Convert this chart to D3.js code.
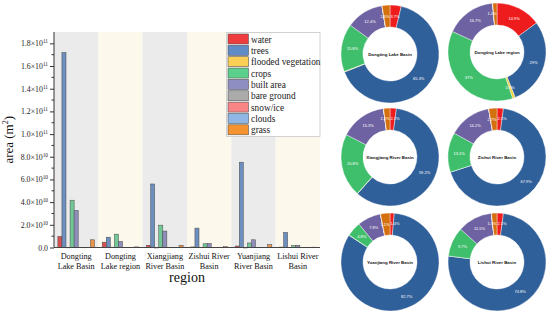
<!DOCTYPE html>
<html><head><meta charset="utf-8">
<script src="https://cdn.jsdelivr.net/npm/d3@7"></script>
<style>body{margin:0;background:#fff}svg{display:block}</style>
</head><body><svg id="c" width="550" height="321"></svg>
<script>
const categories = ["water","trees","flooded vegetation","crops","built area","bare ground","snow/ice","clouds","grass"];
const regions = ["Dongting Lake Basin","Dongting Lake region","Xiangjiang River Basin","Zishui River Basin","Yuanjiang River Basin","Lishui River Basin"];
const regionLabels = [["Dongting","Lake Basin"],["Dongting","Lake region"],["Xiangjiang","River Basin"],["Zishui River","Basin"],["Yuanjiang","River Basin"],["Lishui River","Basin"]];
// bar values, m^2
const areaDLB = [0.97e10,17.2e10,0.02e10,4.17e10,3.27e10,0,0,0,0.68e10];
const areaDLR = [0.47e10,0.91e10,0.03e10,1.18e10,0.53e10,0,0,0,0.05e10];
const areaXRB = [0.20e10,5.6e10,0.01e10,1.97e10,1.45e10,0,0,0,0.20e10];
const areaZRB = [0.05e10,1.71e10,0,0.33e10,0.36e10,0,0,0,0.07e10];
const areaYRB = [0.13e10,7.52e10,0.01e10,0.40e10,0.68e10,0,0,0,0.25e10];
const areaLRB = [0.04e10,1.33e10,0,0.17e10,0.20e10,0,0,0,0.03e10];
const areas = [areaDLB,areaDLR,areaXRB,areaZRB,areaYRB,areaLRB];
// donut shares, %
const pctDLB = [3.7,65.3,0.2,15.8,12.4,0,0,0,2.6];
const pctDLR = [14.9,29,0.9,37,16.7,0,0,0,1.4];
const pctXRB = [2.1,59.2,0.1,20.8,15.3,0,0,0,2.1];
const pctZRB = [2.1,67.9,0,13.1,14.2,0,0,0,2.7];
const pctYRB = [1.4,82.7,0.1,4.8,7.8,0,0,0,3.1];
const pctLRB = [2.1,74.8,0,9.7,11.5,0,0,0,1.8];
const pcts = [pctDLB,pctDLR,pctXRB,pctZRB,pctYRB,pctLRB];
const yTicks = [0,2e10,4e10,6e10,8e10,1e11,1.2e11,1.4e11,1.6e11,1.8e11];

const barColors = ["#d85050","#6d8fbf","#f2cc5e","#72c796","#8f8eba","#a8a8a8","#f08c8c","#94b5dd","#e9934a"];
const legendColors = ["#ee3b3b","#5f8cc6","#fbcf55","#5ccf8c","#8f8ec2","#ababab","#f78585","#8fb6e5","#f59330"];
const pieColors = ["#ee1c1c","#30609a","#f0d040","#3fbf6c","#6f62a2","#a0a0a0","#f08080","#8fb0dd","#d5700f"];

const svg = d3.select("#c");
const serif = "'Liberation Serif','Times New Roman',serif";
const L=54, R=320, T=32, B=247.5;

const x0 = d3.scaleBand().domain(regions).range([L,R]);
const x1 = d3.scaleBand().domain(categories).range([0,x0.bandwidth()]).paddingOuter(0.95);
const y = d3.scaleLinear().domain([0,1.9e11]).range([B,T]);

// background bands
svg.append("g").selectAll("rect").data(regions).join("rect")
  .attr("x",d=>x0(d)).attr("y",T).attr("width",x0.bandwidth()).attr("height",B-T)
  .attr("fill",(d,i)=>i%2===0?"#ebebeb":"#fcf8eb");

// bars
regions.forEach((r,ri)=>{
  svg.append("g").attr("transform",`translate(${x0(r)},0)`)
    .selectAll("rect").data(areas[ri].map((v,i)=>({c:categories[i],v,i}))).join("rect")
    .filter(d=>d.v>0)
    .attr("x",d=>x1(d.c)).attr("width",x1.bandwidth())
    .attr("y",d=>y(d.v)).attr("height",d=>Math.max(0.6,B-y(d.v)))
    .attr("fill",d=>barColors[d.i])
    .attr("stroke","#4a4a4a").attr("stroke-width",0.5);
});

// y axis
const yAxis = d3.axisLeft(y).tickValues(yTicks).tickSize(4).tickFormat("");
const gy = svg.append("g").attr("transform",`translate(${L},0)`).call(yAxis);
gy.select(".domain").attr("d",`M-0,${T}V${B}`).attr("stroke","#333");
gy.selectAll(".tick line").attr("stroke","#333");
const minor = d3.range(1e10,1.9e11,2e10);
gy.selectAll(".minor").data(minor).join("line").attr("class","minor")
  .attr("x1",-2.5).attr("x2",0).attr("y1",d=>y(d)).attr("y2",d=>y(d)).attr("stroke","#333");
yTicks.forEach(v=>{
  const t = svg.append("text").attr("x",L-6).attr("y",y(v)+3).attr("text-anchor","end")
    .attr("font-family",serif).attr("font-size",7.8).attr("fill","#222");
  if(v===0){t.text("0.0");return;}
  const e = Math.floor(Math.log10(v)); const m = (v/Math.pow(10,e)).toFixed(1);
  t.append("tspan").text(m+"×10");
  t.append("tspan").attr("dy",-3).attr("font-size",5.3).text(e);
});
svg.append("text").attr("transform",`translate(13,${(T+B)/2}) rotate(-90)`).attr("text-anchor","middle")
  .attr("font-family",serif).attr("font-size",13).attr("fill","#111")
  .call(t=>{t.append("tspan").text("area (m");t.append("tspan").attr("dy",-5).attr("font-size",8).text("2");t.append("tspan").attr("dy",5).text(")");});

// x axis
svg.append("line").attr("x1",L).attr("x2",R).attr("y1",B).attr("y2",B).attr("stroke","#444").attr("stroke-width",1);
regions.forEach((r,i)=>{
  const cx = x0(r)+x0.bandwidth()/2;
  const t = svg.append("text").attr("x",cx).attr("y",259).attr("text-anchor","middle")
    .attr("font-family",serif).attr("font-size",8.2).attr("fill","#111");
  regionLabels[i].forEach((s,k)=>t.append("tspan").attr("x",cx).attr("dy",k?9.8:0).text(s));
});
svg.append("text").attr("x",187).attr("y",282).attr("text-anchor","middle")
  .attr("font-family",serif).attr("font-size",14).attr("fill","#111").text("region");

// legend
const lg = svg.append("g").attr("transform","translate(226.5,32.5)");
lg.append("rect").attr("width",93.5).attr("height",104).attr("fill","#fff").attr("stroke","#c8c8c8").attr("stroke-width",0.8);
categories.forEach((c,i)=>{
  lg.append("rect").attr("x",1.5).attr("y",1.5+i*11.35).attr("width",20.5).attr("height",10)
    .attr("fill",legendColors[i]).attr("stroke","#555").attr("stroke-width",0.6);
  lg.append("text").attr("x",24.5).attr("y",10+i*11.35).attr("font-family",serif).attr("font-size",9.3).attr("fill","#222").text(c);
});

// donuts
const centers = [[390,54],[497,52],[390,157],[497,157],[390,262],[497,262]];
const outerR = 49, innerR = 27;
const pie = d3.pie().sort(null).value(d=>d.v);
const arc = d3.arc().innerRadius(innerR).outerRadius(outerR);
const labelArc = d3.arc().innerRadius((innerR+outerR)/2).outerRadius((innerR+outerR)/2);
regions.forEach((r,ri)=>{
  const g = svg.append("g").attr("transform",`translate(${centers[ri][0]},${centers[ri][1]})`);
  const arcs = pie(pcts[ri].map((v,i)=>({v,i})));
  g.selectAll("path").data(arcs).join("path").attr("d",arc)
    .attr("fill",d=>pieColors[d.data.i]).attr("stroke","#fff").attr("stroke-width",0.4);
  const small = d=>d.data.v<5;
  const mid = d=>(d.startAngle+d.endAngle)/2;
  g.selectAll("text.p").data(arcs.filter(d=>d.data.v>=0.5)).join("text").attr("class","p")
    .attr("transform",d=>{const [cx,cy]=labelArc.centroid(d);
      if(small(d)&&(mid(d)<0.5||mid(d)>2*Math.PI-0.5)) return `translate(${mid(d)<Math.PI?0.4:-0.4},${cy})`;
      return `translate(${cx},${cy})`;})
    .attr("text-anchor",d=>{if(small(d)&&(mid(d)<0.5||mid(d)>2*Math.PI-0.5)) return mid(d)<Math.PI?"start":"end"; return "middle";})
    .attr("dy","0.35em")
    .attr("font-family","'Liberation Sans',Arial,sans-serif").attr("font-size",4).attr("fill","#fff")
    .text(d=>d.data.v+"%");
  g.append("text").attr("text-anchor","middle").attr("dy","0.35em")
    .attr("font-family","'Liberation Sans',Arial,sans-serif").attr("font-weight","bold").attr("font-size",4.4).attr("fill","#111")
    .text(r);
});
</script></body></html>
